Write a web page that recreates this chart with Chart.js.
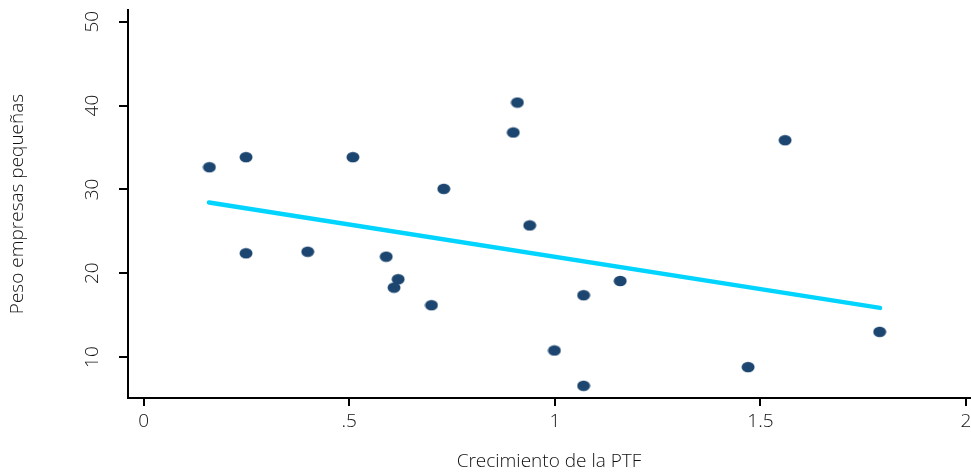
<!DOCTYPE html>
<html>
<head>
<meta charset="utf-8">
<script src="https://cdn.jsdelivr.net/npm/chart.js@4"></script>
<style>
  html, body { margin: 0; padding: 0; background: #fff; overflow: hidden; }
  canvas { display: block; }
</style>
</head>
<body>
<canvas id="scatterChart" width="971" height="473"></canvas>
<script>
// data
const ptfGrowth = [0.160, 0.249, 0.509, 0.730, 0.249, 0.399, 0.590, 0.619, 0.609, 0.700,
                   0.909, 0.899, 0.939, 1.159, 1.070, 0.999, 1.070, 1.560, 1.790, 1.470];
const smallFirmShare = [32.65, 33.85, 33.85, 30.07, 22.38, 22.57, 21.98, 19.29, 18.29, 16.19,
                        40.36, 36.79, 25.71, 19.08, 17.38, 10.79, 6.58, 35.87, 13.01, 8.81];
// fitted line end points
const fitX = [0.159, 1.791];
const fitY = [28.45, 15.87];

const xTicks = [0, 0.5, 1, 1.5, 2];
const xTickLabels = ["0", ".5", "1", "1.5", "2"];
const yTicks = [10, 20, 30, 40, 50];

document.addEventListener("DOMContentLoaded", function () {
  const ctx = document.getElementById("scatterChart").getContext("2d");
  const font = "'Open Sans', 'DejaVu Sans', sans-serif";

  // slightly wide dots, like the original
  const dot = document.createElement("canvas");
  dot.width = 14;
  dot.height = 12;
  const dctx = dot.getContext("2d");
  dctx.fillStyle = "#1c4670";
  dctx.beginPath();
  dctx.ellipse(7, 6, 6.5, 5.3, 0, 0, Math.PI * 2);
  dctx.fill();

  new Chart(ctx, {
    type: "scatter",
    data: {
      datasets: [
        {
          label: "Peso",
          data: ptfGrowth.map((x, i) => ({ x: x, y: smallFirmShare[i] })),
          pointStyle: dot,
          pointRadius: 6,
          order: 2,
        },
        {
          label: "Ajuste",
          type: "line",
          data: fitX.map((x, i) => ({ x: x, y: fitY[i] })),
          borderColor: "#00d4ff",
          borderWidth: 4.5,
          borderCapStyle: "round",
          pointRadius: 0,
          fill: false,
          order: 1,
        },
      ],
    },
    options: {
      responsive: false,
      animation: false,
      layout: { autoPadding: false, padding: { top: 10, right: 1, left: 0, bottom: 0 } },
      plugins: { legend: { display: false }, tooltip: { enabled: false } },
      scales: {
        x: {
          type: "linear",
          min: -0.038,
          max: 2.0097,
          afterBuildTicks: function (scale) {
            scale.ticks = xTicks.map((v) => ({ value: v }));
          },
          afterFit: function (scale) {
            scale.height = 75;
            scale.paddingLeft = 0;
            scale.paddingRight = 0;
          },
          ticks: {
            color: "#111",
            font: { family: font, size: 19, weight: "300" },
            padding: 4,
            maxRotation: 0,
            autoSkip: false,
            callback: function (value) {
              const i = xTicks.indexOf(value);
              return i >= 0 ? xTickLabels[i] : "";
            },
          },
          grid: {
            drawOnChartArea: false,
            drawTicks: true,
            tickLength: 8,
            lineWidth: 2,
            color: "#000",
          },
          border: { display: true, color: "#000", width: 2 },
          title: {
            display: true,
            text: "Crecimiento de la PTF",
            color: "#111",
            font: { family: font, size: 19, weight: "300" },
            padding: { top: 0, bottom: 0 },
          },
        },
        y: {
          type: "linear",
          min: 5.12,
          max: 51.4,
          afterBuildTicks: function (scale) {
            scale.ticks = yTicks.map((v) => ({ value: v }));
          },
          afterFit: function (scale) {
            scale.width = 128;
            scale.paddingTop = 0;
            scale.paddingBottom = 0;
          },
          ticks: {
            color: "#111",
            font: { family: font, size: 19, weight: "300" },
            padding: 16,
            minRotation: 90,
            maxRotation: 90,
            crossAlign: "center",
            autoSkip: false,
          },
          grid: {
            drawOnChartArea: false,
            drawTicks: true,
            tickLength: 9,
            lineWidth: 2,
            color: "#000",
          },
          border: { display: true, color: "#000", width: 2 },
          title: {
            display: true,
            text: "Peso empresas pequeñas",
            color: "#111",
            font: { family: font, size: 19, weight: "300" },
            padding: { top: 6, bottom: 0 },
          },
        },
      },
    },
  });
});
</script>
</body>
</html>
